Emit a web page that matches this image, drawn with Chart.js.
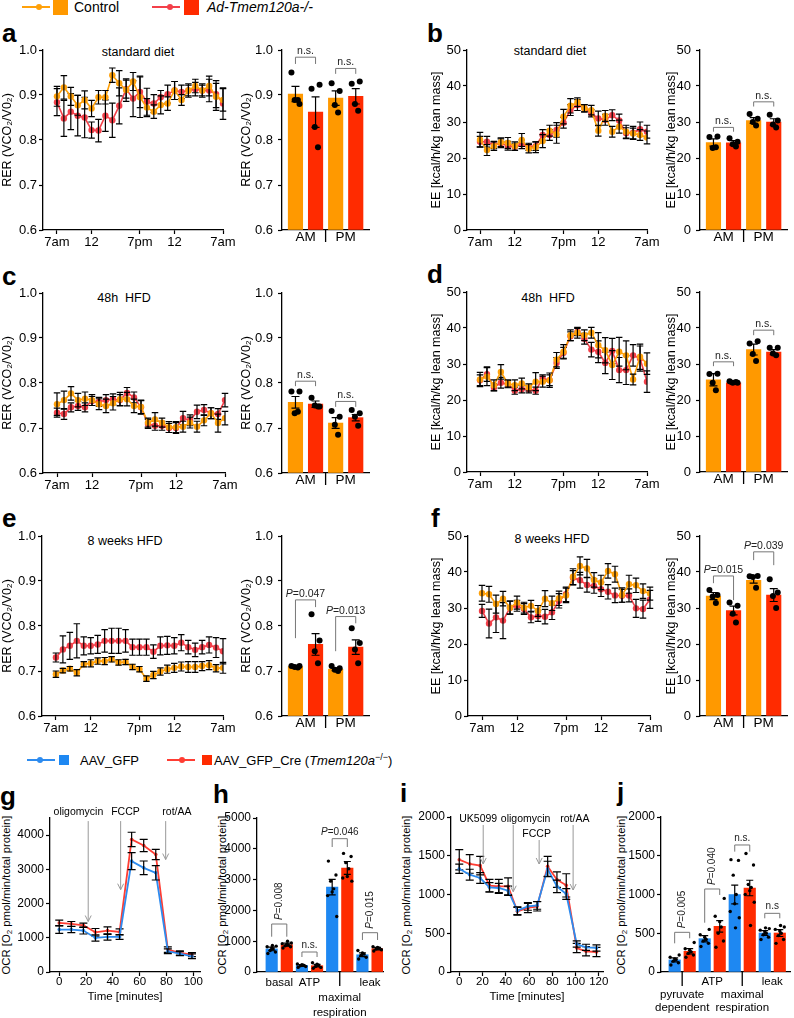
<!DOCTYPE html>
<html><head><meta charset="utf-8">
<script src="https://cdn.jsdelivr.net/npm/chart.js@4.4.1/dist/chart.umd.min.js"></script>
<style>
html,body{margin:0;padding:0;background:#fff}
body{position:relative;width:794px;height:1018px;overflow:hidden;font-family:"Liberation Sans",Arial,Helvetica,sans-serif;color:#000}
canvas{position:absolute}
.t{position:absolute;white-space:nowrap;line-height:1}
.L{font-weight:bold;font-size:26px}
.ttl{font-size:12.5px;transform:translateX(-50%)}
.rot{font-size:11.3px;transform:translate(-50%,-50%) rotate(-90deg)}
.rot sub{font-size:8px;vertical-align:-2px;line-height:0}
.ln{position:absolute;height:2px}
.dot{position:absolute;width:6px;height:6px;border-radius:50%}
.sq{position:absolute}
sup{font-size:9px;vertical-align:5px;line-height:0}
</style></head><body>

<!-- top legend -->
<div class="ln" style="left:22px;top:6px;width:28px;background:#FFA10A"></div>
<div class="dot" style="left:36px;top:4px;background:#FFA10A"></div>
<div class="sq" style="left:53px;top:0px;width:15px;height:15px;background:#FF9900"></div>
<div class="t" style="left:74px;top:0px;font-size:14px">Control</div>
<div class="ln" style="left:152px;top:6px;width:28px;background:#F3404A"></div>
<div class="dot" style="left:167px;top:4px;background:#F3404A"></div>
<div class="sq" style="left:184px;top:0px;width:15px;height:15px;background:#FF2B00"></div>
<div class="t" style="left:207px;top:0px;font-size:14px;font-style:italic">Ad-Tmem120a-/-</div>

<!-- bottom legend -->
<div class="ln" style="left:27px;top:759px;width:28px;background:#2D8BEF"></div>
<div class="dot" style="left:37px;top:757px;background:#2D8BEF"></div>
<div class="sq" style="left:59px;top:755px;width:10px;height:10px;background:#1E88F2"></div>
<div class="t" style="left:80px;top:754px;font-size:13px">AAV_GFP</div>
<div class="ln" style="left:167px;top:759px;width:28px;background:#FF3D33"></div>
<div class="dot" style="left:179px;top:757px;background:#FF3D33"></div>
<div class="sq" style="left:202px;top:755px;width:10px;height:10px;background:#FF2B00"></div>
<div class="t" style="left:214px;top:754px;font-size:13px">AAV_GFP_Cre (<i>Tmem120a</i><sup>−/−</sup>)</div>

<!-- panel letters -->
<div class="t L" style="left:2px;top:20px">a</div>
<div class="t L" style="left:427px;top:20px">b</div>
<div class="t L" style="left:2px;top:263px">c</div>
<div class="t L" style="left:427px;top:261px">d</div>
<div class="t L" style="left:2px;top:505px">e</div>
<div class="t L" style="left:431px;top:505px">f</div>
<div class="t L" style="left:0px;top:783px">g</div>
<div class="t L" style="left:213px;top:781px">h</div>
<div class="t L" style="left:400px;top:780px">i</div>
<div class="t L" style="left:617px;top:779px">j</div>

<!-- in-plot titles -->
<div class="t ttl" style="left:138px;top:46px">standard diet</div>
<div class="t ttl" style="left:550px;top:45px">standard diet</div>
<div class="t ttl" style="left:124px;top:292px">48h&nbsp;&nbsp;HFD</div>
<div class="t ttl" style="left:548px;top:292px">48h&nbsp;&nbsp;HFD</div>
<div class="t ttl" style="left:125px;top:535px">8 weeks HFD</div>
<div class="t ttl" style="left:552px;top:533px">8 weeks HFD</div>

<!-- OCR axis titles -->
<div class="t rot" style="left:7px;top:895px">OCR [O<sub>2</sub> pmol/min/total protein]</div>
<div class="t rot" style="left:223px;top:895px">OCR [O<sub>2</sub> pmol/min/total protein]</div>
<div class="t rot" style="left:407px;top:895px">OCR [O<sub>2</sub> pmol/min/total protein]</div>
<div class="t rot" style="left:622px;top:895px">OCR [O<sub>2</sub> pmol/min/total protein]</div>

<script>
// ======================= DATA =======================
const HOURS = [0,1,2,3,4,5,6,7,8,9,10,11,12,13,14,15,16,17,18,19,20,21,22,23,24];
const DAY_TICKS = [0,5,12,17,24];
const DAY_LABELS = ['7am','12','7pm','12','7am'];
const GROUP_LABELS = ['AM','PM'];
const GROUP_TICKS = [0.5,2.5];
const RER_TICKS = [0.6,0.7,0.8,0.9,1.0];
const EE_TICKS = [0,10,20,30,40,50];

// a: RER, standard diet
const aCtrl    = [0.897,0.917,0.897,0.877,0.889,0.870,0.895,0.895,0.944,0.926,0.911,0.930,0.895,0.872,0.863,0.878,0.881,0.910,0.889,0.910,0.920,0.910,0.920,0.896,0.889];
const aCtrlErr = [0.022,0.026,0.020,0.022,0.020,0.018,0.015,0.015,0.016,0.028,0.025,0.020,0.045,0.020,0.015,0.020,0.015,0.020,0.012,0.012,0.015,0.012,0.022,0.030,0.025];
const aKO      = [0.884,0.848,0.863,0.854,0.850,0.822,0.821,0.854,0.844,0.876,0.913,0.892,0.907,0.885,0.881,0.895,0.902,0.910,0.907,0.910,0.913,0.910,0.910,0.902,0.881];
const aKOErr   = [0.030,0.040,0.040,0.045,0.045,0.018,0.025,0.035,0.038,0.040,0.020,0.040,0.035,0.030,0.020,0.015,0.020,0.020,0.015,0.015,0.015,0.015,0.025,0.030,0.035];
const aBarMean = [0.902,0.862,0.893,0.897];
const aBarErr  = [0.017,0.034,0.016,0.017];
const aBarPts  = [[0.950,0.880,0.889,0.889],[0.914,0.923,0.829,0.784],[0.926,0.909,0.878,0.861],[0.925,0.930,0.880,0.865]];

// b: EE, standard diet
const bCtrl    = [25.1,22.2,23.3,24.4,24.2,23.3,25.0,22.6,23.0,24.7,27.6,26.6,31.5,34.5,35.5,33.8,33.3,27.6,31.7,27.3,28.7,27.3,26.8,26.4,25.7];
const bCtrlErr = [2.0,1.5,1.2,1.2,1.5,1.2,1.8,1.2,1.5,1.8,1.5,2.5,2.0,2.0,1.2,1.0,1.3,1.5,1.5,1.5,1.8,1.8,1.5,1.5,1.8];
const bKO      = [24.5,24.5,23.6,24.1,23.4,23.1,23.8,23.1,23.3,26.4,26.4,27.8,29.8,33.3,34.7,33.8,32.4,31.0,30.6,31.9,30.4,26.9,27.0,28.0,27.3];
const bKOErr   = [1.5,1.5,1.0,1.2,1.2,1.0,1.2,1.0,1.2,1.5,1.5,2.0,1.5,1.5,1.5,1.0,1.0,2.0,1.5,1.5,1.8,1.5,1.8,2.0,1.8];
const bBarMean = [24.3,24.2,30.4,30.0];
const bBarErr  = [1.0,0.6,0.8,0.9];
const bBarPts  = [[25.8,26.0,22.8,23.0],[25.5,24.5,23.8,23.2],[32.2,30.9,30.0,29.0],[32.0,30.4,29.3,28.5]];

// c: RER, 48h HFD
const cCtrl    = [0.753,0.762,0.777,0.762,0.765,0.762,0.753,0.749,0.755,0.764,0.764,0.749,0.747,0.712,0.719,0.712,0.702,0.702,0.703,0.712,0.703,0.717,0.733,0.711,0.722];
const cCtrlErr = [0.025,0.020,0.015,0.015,0.015,0.012,0.012,0.015,0.015,0.015,0.015,0.015,0.015,0.010,0.015,0.010,0.012,0.012,0.012,0.012,0.012,0.012,0.012,0.020,0.015];
const cKO      = [0.734,0.731,0.746,0.749,0.746,0.760,0.758,0.762,0.764,0.762,0.778,0.768,0.746,0.709,0.705,0.705,0.700,0.700,0.722,0.717,0.736,0.740,0.733,0.731,0.762];
const cKOErr   = [0.010,0.012,0.010,0.010,0.010,0.010,0.010,0.012,0.012,0.012,0.012,0.012,0.015,0.010,0.010,0.010,0.010,0.012,0.015,0.012,0.015,0.012,0.012,0.012,0.015];
const cBarMean = [0.757,0.753,0.711,0.723];
const cBarErr  = [0.013,0.007,0.012,0.007];
const cBarPts  = [[0.781,0.781,0.733,0.736],[0.767,0.748,0.750,0.748],[0.738,0.725,0.707,0.685],[0.740,0.733,0.725,0.705]];

// d: EE, 48h HFD
const dCtrl    = [25.7,26.5,24.1,27.8,24.6,24.1,24.6,23.5,25.1,25.1,25.5,31.2,33.4,38.0,38.7,38.0,38.7,35.2,33.8,29.7,33.4,32.4,25.7,32.0,30.1];
const dCtrlErr = [2.0,2.5,1.5,2.0,1.0,1.5,1.5,1.0,2.5,1.5,2.0,2.0,2.0,1.5,1.5,1.5,1.5,3.5,3.5,4.0,4.0,4.0,1.5,3.5,3.0];
const dKO      = [25.5,27.2,23.5,24.8,24.4,22.6,23.0,23.0,22.6,26.0,25.5,30.3,33.1,37.7,38.9,37.0,34.0,33.4,30.3,33.6,28.3,28.3,32.4,31.5,25.1];
const dKOErr   = [1.5,2.0,1.0,1.5,1.0,1.0,1.0,1.0,1.0,1.0,1.5,1.5,1.5,1.2,1.0,1.5,2.0,3.0,3.0,3.5,3.5,4.0,3.0,3.5,3.0];
const dBarMean = [25.6,24.8,34.0,33.3];
const dBarErr  = [1.7,0.4,1.5,0.7];
const dBarPts  = [[27.2,27.3,24.8,22.7],[25.2,24.8,24.8,25.0],[35.7,36.3,32.8,30.8],[34.5,34.5,32.9,32.4]];

// e: RER, 8 weeks HFD
const eCtrl    = [0.693,0.701,0.705,0.696,0.715,0.717,0.722,0.722,0.726,0.719,0.720,0.709,0.704,0.683,0.691,0.699,0.704,0.707,0.710,0.709,0.709,0.711,0.713,0.706,0.707];
const eCtrlErr = [0.007,0.005,0.005,0.007,0.006,0.008,0.007,0.008,0.006,0.006,0.006,0.006,0.006,0.006,0.008,0.008,0.009,0.010,0.010,0.012,0.012,0.010,0.010,0.008,0.012];
const eKO      = [0.730,0.748,0.756,0.767,0.756,0.756,0.759,0.767,0.767,0.767,0.767,0.753,0.753,0.753,0.743,0.756,0.757,0.756,0.763,0.753,0.747,0.753,0.758,0.752,0.744];
const eKOErr   = [0.010,0.030,0.030,0.038,0.020,0.018,0.020,0.025,0.028,0.028,0.025,0.018,0.018,0.018,0.015,0.020,0.020,0.018,0.018,0.015,0.015,0.015,0.018,0.022,0.028];
const eBarMean = [0.710,0.759,0.704,0.753];
const eBarErr  = [0.002,0.024,0.003,0.016];
const eBarPts  = [[0.711,0.711,0.709,0.708],[0.826,0.768,0.744,0.717],[0.711,0.706,0.703,0.700],[0.795,0.762,0.748,0.717]];

// f: EE, 8 weeks HFD
const fCtrl    = [34.1,33.8,31.1,32.6,30.1,31.5,30.1,30.6,29.2,32.6,31.3,32.7,33.5,38.7,41.7,41.0,37.8,37.1,40.3,39.4,33.6,36.6,36.3,34.7,34.0];
const fCtrlErr = [2.2,2.2,2.5,2.0,1.8,1.8,1.5,1.5,1.5,2.2,2.0,2.0,2.0,2.2,2.5,2.5,2.0,2.0,2.0,2.2,2.0,2.5,2.0,2.0,1.8];
const fKO      = [29.2,25.7,27.4,26.5,30.1,30.6,29.7,27.4,27.8,27.6,28.8,32.0,33.8,38.4,37.7,36.4,36.1,35.2,34.5,33.5,33.4,33.5,29.9,29.7,32.4];
const fKOErr   = [1.8,4.0,4.2,5.0,1.8,1.5,1.5,1.5,1.5,2.0,2.0,2.0,2.0,2.0,2.2,2.0,2.0,2.0,2.0,2.0,1.8,1.8,2.5,2.5,2.5];
const fBarMean = [33.3,29.3,37.7,33.6];
const fBarErr  = [1.0,1.2,0.8,1.8];
const fBarPts  = [[35.0,33.6,33.2,31.4],[31.5,30.6,28.4,26.0],[38.8,38.9,38.6,35.6],[38.0,34.3,33.3,30.0]];

// g: OCR time course
const gTime    = [0,9,18,27,36,45,54,63,72,81,90,99];
const gGFP     = [1239,1239,1210,995,1024,1024,3239,3044,2898,605,537,459];
const gGFPErr  = [110,90,100,90,90,70,250,200,210,70,60,70];
const gCre     = [1434,1405,1366,1161,1210,1171,3873,3698,3434,654,556,507];
const gCreErr  = [80,70,60,110,110,90,210,180,150,80,60,60];
const gTicksX  = [0,20,40,60,80,100];
const gTicksY  = [0,1000,2000,3000,4000];

// h: OCR bars
const hLabels  = ['basal','ATP',['','maximal','respiration'],'leak'];
const hMean    = [750,887,213,205,2757,3377,560,758];
const hErr     = [60,50,30,40,250,210,60,40];
const hPts     = [[600,650,700,750,780,820,840,860],[780,820,850,880,900,920,940,1000],[150,180,200,220,240,260],[120,150,180,220,250,300],
                  [3600,3150,2950,2700,2600,2480,1800],[3850,3750,3550,3350,3100,3050,2950],[420,480,540,580,620,700],[680,720,750,770,800,820]];
const hTicksY  = [0,1000,2000,3000,4000,5000];

// i: OCR time course with UK5099
const iTime    = [0,9,18,26,34,42,50,59,67,76,84,92,101,109,118];
const iGFP     = [1333,1256,1213,1092,1084,1049,791,847,860,1329,1105,1006,361,318,310];
const iGFPErr  = [60,70,70,60,60,60,50,50,50,100,80,70,40,40,40];
const iCre     = [1449,1394,1372,1114,1105,1105,783,826,847,1363,1191,1118,310,267,258];
const iCreErr  = [130,120,120,80,90,110,50,60,60,130,100,150,60,60,60];
const iTicksX  = [0,20,40,60,80,100,120];
const ijTicksY = [0,500,1000,1500,2000];

// j: OCR bars
const jLabels  = [['','pyruvate','dependent'],'ATP',['','maximal','respiration'],'leak'];
const jMean    = [156,267,430,589,1000,1084,503,503];
const jErr     = [25,35,40,75,120,100,30,45];
const jPts     = [[90,120,140,160,170,190,220],[190,220,240,260,280,300,380],[330,370,400,420,450,480,550],[320,400,500,580,650,720,950],
                  [1450,1440,1250,1000,880,780,700,570],[1530,1380,1130,1090,1050,1000,900,600],[420,450,480,500,520,540,560,570],[370,420,470,500,530,550,580,600]];
const PAIR_TICKS = [0.5,2.5,4.5,6.5];

// ======================= STYLE / HELPERS =======================
const FONT = "'Liberation Sans', Arial, Helvetica, sans-serif";
Chart.defaults.font.family = FONT;
Chart.defaults.color = '#000';
const C = { orangeLine:'#FFA10A', orangeBar:'#FF9900', redLine:'#F3404A', redBar:'#FF2B00',
            blueLine:'#2D8BEF', blueBar:'#1E88F2', redLine2:'#FF3D33', bracket:'#777', arrow:'#999' };
const AMPM_COLORS = [C.orangeBar, C.redBar, C.orangeBar, C.redBar];
const OCR_COLORS = [C.blueBar, C.redBar, C.blueBar, C.redBar, C.blueBar, C.redBar, C.blueBar, C.redBar];
const JIT4 = [-0.2, 0.2, -0.04, 0.12];
const JIT8 = [-0.25, 0.25, -0.1, 0.1, 0, -0.3, 0.3, 0.05];

function frame(p) {
  let cl, padL;
  if (p.ytx !== undefined) { const x0 = p.ytx - p.tsz * 0.6; cl = Math.floor(x0); padL = x0 - cl; }
  else { cl = p.l - p.yw; padL = 0; }
  const ct = p.t - p.padT, cw = p.r + p.padR - cl, ch = p.cb - ct;
  const cv = document.createElement('canvas');
  cv.width = cw; cv.height = ch;
  cv.style.left = cl + 'px'; cv.style.top = ct + 'px';
  document.body.appendChild(cv);
  return { ctx: cv.getContext('2d'), yw: p.l - cl - padL, xh: p.xh,
           pad: { left: padL, top: p.padT, right: p.padR, bottom: p.cb - p.b - p.xh } };
}
function yAxis(f, o) {
  return {
    type: 'linear', position: 'left', min: o.min, max: o.max,
    afterBuildTicks: s => { s.ticks = o.ticks.map(v => ({ value: v })); },
    afterFit: s => { s.width = f.yw; },
    ticks: { font: { size: o.fs }, color: '#000', padding: o.pad, autoSkip: false, callback: v => o.fmt(v) },
    grid: { display: true, drawOnChartArea: false, drawTicks: true, tickLength: 4, tickWidth: 1.2, tickColor: '#000' },
    border: { display: true, color: '#000', width: 1.3 },
    title: o.title ? { display: true, text: o.title, font: { size: o.tsz }, color: '#000', padding: 0 } : { display: false }
  };
}
function xAxis(f, o) {
  return {
    type: 'linear', position: 'bottom', min: o.min, max: o.max, offset: false,
    afterBuildTicks: s => { s.ticks = o.ticks.map(v => ({ value: v })); },
    afterFit: s => { s.height = f.xh; },
    ticks: { font: { size: o.fs, lineHeight: o.lh || 1.2 }, color: '#000', padding: o.pad, autoSkip: false,
             maxRotation: 0, minRotation: 0, callback: (v, i) => o.labels[i] },
    grid: { display: true, offset: false, drawOnChartArea: false, drawTicks: !!o.tick, tickLength: 4, tickWidth: 1.2, tickColor: '#000' },
    border: { display: true, color: '#000', width: 1.3 },
    title: o.title ? { display: true, text: o.title, font: { size: o.tsz }, color: '#000', padding: 0 } : { display: false }
  };
}
function opts(f, scales) {
  return { responsive: false, animation: false, devicePixelRatio: 1, events: [],
    layout: { padding: f.pad },
    plugins: { legend: { display: false }, tooltip: { enabled: false }, title: { display: false } },
    scales };
}
function drawStat(ctx, text, x, y, rot, fs) {
  const ital = text.indexOf('P=') === 0;
  const head = ital ? 'P' : '', tail = ital ? text.slice(1) : text;
  ctx.save();
  ctx.translate(x, y);
  if (rot) ctx.rotate(-Math.PI / 2);
  ctx.fillStyle = '#222';
  ctx.textBaseline = rot ? 'middle' : 'alphabetic';
  ctx.textAlign = 'left';
  ctx.font = 'italic ' + fs + 'px ' + FONT;
  const w1 = head ? ctx.measureText(head).width : 0;
  ctx.font = fs + 'px ' + FONT;
  const w2 = ctx.measureText(tail).width;
  const sx = rot ? 0 : -(w1 + w2) / 2;
  if (head) { ctx.font = 'italic ' + fs + 'px ' + FONT; ctx.fillText(head, sx, 0); }
  ctx.font = fs + 'px ' + FONT; ctx.fillText(tail, sx + w1, 0);
  ctx.restore();
}
function annot(spec) {
  return {
    id: 'annot',
    afterDatasetDraw(chart, args) {
      const ds = chart.data.datasets[args.index];
      if (!ds.errorBars) return;
      const ys = chart.scales.y, ctx = chart.ctx;
      ctx.save();
      ctx.strokeStyle = '#000'; ctx.lineWidth = ds.errWidth || 1.2;
      args.meta.data.forEach((el, i) => {
        const v = ds.data[i].y, e = ds.errorBars[i], x = el.x, h = ds.errCap / 2;
        const yt = ys.getPixelForValue(v + e), yb = ys.getPixelForValue(v - e);
        ctx.beginPath();
        ctx.moveTo(x, yt); ctx.lineTo(x, yb);
        ctx.moveTo(x - h, yt); ctx.lineTo(x + h, yt);
        ctx.moveTo(x - h, yb); ctx.lineTo(x + h, yb);
        ctx.stroke();
      });
      ctx.restore();
    },
    afterDraw(chart) {
      const ctx = chart.ctx, xs = chart.scales.x, ys = chart.scales.y;
      ctx.save();
      (spec.seps || []).forEach(s => {
        const x = xs.getPixelForValue(s.x), y = chart.chartArea.bottom;
        ctx.strokeStyle = '#000'; ctx.lineWidth = 1.3;
        ctx.beginPath(); ctx.moveTo(x, y); ctx.lineTo(x, y + s.len); ctx.stroke();
      });
      (spec.brackets || []).forEach(b => {
        const x1 = xs.getPixelForValue(b.a), x2 = xs.getPixelForValue(b.b), yt = ys.getPixelForValue(b.top);
        ctx.strokeStyle = C.bracket; ctx.lineWidth = 1;
        ctx.beginPath();
        ctx.moveTo(x1, ys.getPixelForValue(b.l1)); ctx.lineTo(x1, yt); ctx.lineTo(x2, yt); ctx.lineTo(x2, ys.getPixelForValue(b.l2));
        ctx.stroke();
        drawStat(ctx, b.text, (x1 + x2) / 2, yt - spec.gap, b.rot, spec.fs);
      });
      (spec.arrows || []).forEach(a => {
        const x = xs.getPixelForValue(a.x), y1 = ys.getPixelForValue(a.y1), y2 = ys.getPixelForValue(a.y2);
        ctx.strokeStyle = C.arrow; ctx.lineWidth = 1;
        ctx.beginPath(); ctx.moveTo(x, y1); ctx.lineTo(x, y2);
        ctx.moveTo(x - 3, y2 - 6); ctx.lineTo(x, y2); ctx.lineTo(x + 3, y2 - 6); ctx.stroke();
      });
      (spec.notes || []).forEach(n => {
        ctx.fillStyle = '#000'; ctx.font = spec.nfs + 'px ' + FONT; ctx.textAlign = 'center'; ctx.textBaseline = 'alphabetic';
        ctx.fillText(n.text, xs.getPixelForValue(n.x), ys.getPixelForValue(n.y));
      });
      ctx.restore();
    }
  };
}

const RER_Y = { min: 0.6, max: 1.0, ticks: RER_TICKS, fmt: v => v.toFixed(1), title: 'RER (VCO\u2082/V0\u2082)', tsz: 12.5, fs: 13 };
const EE_Y  = { min: 0, max: 50, ticks: EE_TICKS, fmt: v => String(v), title: 'EE [kcal/h/kg lean mass]', tsz: 12.5, fs: 13 };

function dayChart(p, yo, ctrl, ctrlErr, ko, koErr) {
  const f = frame(p);
  const mk = (vals, errs, col) => ({
    data: HOURS.map((h, i) => ({ x: h, y: vals[i] })),
    borderColor: col, backgroundColor: col, pointBackgroundColor: col, pointBorderColor: col,
    borderWidth: 1.6, pointRadius: 3.2, pointBorderWidth: 0, tension: 0, errorBars: errs, errCap: 6.5
  });
  new Chart(f.ctx, {
    type: 'line',
    data: { datasets: [mk(ctrl, ctrlErr, C.orangeLine), mk(ko, koErr, C.redLine)] },
    options: opts(f, {
      x: xAxis(f, { min: p.xmin, max: 24, ticks: DAY_TICKS, labels: DAY_LABELS, fs: 13, pad: 1, tick: true }),
      y: yAxis(f, Object.assign({ pad: 2 }, yo))
    }),
    plugins: [annot({})]
  });
}
function amPmBar(p, yo, means, errs, pts, brackets) {
  const f = frame(p);
  const dots = [];
  pts.forEach((arr, i) => arr.forEach((v, j) => dots.push({ x: i + JIT4[j], y: v })));
  new Chart(f.ctx, {
    type: 'bar',
    data: { datasets: [
      { type: 'scatter', data: dots, pointRadius: 3, pointBackgroundColor: '#000', pointBorderWidth: 0, backgroundColor: '#000' },
      { type: 'bar', data: means.map((m, i) => ({ x: i, y: m })), backgroundColor: AMPM_COLORS, barThickness: 14.5,
        base: yo.min, errorBars: errs, errCap: 8 }
    ]},
    options: opts(f, {
      x: xAxis(f, { min: p.xmin, max: p.xmax, ticks: GROUP_TICKS, labels: GROUP_LABELS, fs: 13.5, pad: -1 }),
      y: yAxis(f, Object.assign({ pad: 5 }, yo))
    }),
    plugins: [annot({ brackets, seps: [{ x: 1.5, len: 12 }], gap: 3, fs: 10.5 })]
  });
}
function timeChart(p, yo, xo, times, gfp, gfpErr, cre, creErr, spec) {
  const f = frame(p);
  const mk = (vals, errs, col) => ({
    data: times.map((t, i) => ({ x: t, y: vals[i] })),
    borderColor: col, backgroundColor: col, pointBackgroundColor: col, pointBorderWidth: 0,
    borderWidth: 1.8, pointRadius: 1.8, tension: 0, errorBars: errs, errCap: 8
  });
  new Chart(f.ctx, {
    type: 'line',
    data: { datasets: [mk(gfp, gfpErr, C.blueLine), mk(cre, creErr, C.redLine2)] },
    options: opts(f, { x: xAxis(f, xo), y: yAxis(f, yo) }),
    plugins: [annot(spec)]
  });
}
function ocrBar(p, yo, xo, means, errs, pts, spec) {
  const f = frame(p);
  const dots = [];
  pts.forEach((arr, i) => arr.forEach((v, j) => dots.push({ x: i + JIT8[j], y: v })));
  new Chart(f.ctx, {
    type: 'bar',
    data: { datasets: [
      { type: 'scatter', data: dots, pointRadius: 1.7, pointBackgroundColor: '#000', pointBorderWidth: 0, backgroundColor: '#000' },
      { type: 'bar', data: means.map((m, i) => ({ x: i, y: m })), backgroundColor: OCR_COLORS, barThickness: 11.5,
        base: 0, errorBars: errs, errCap: 7 }
    ]},
    options: opts(f, { x: xAxis(f, xo), y: yAxis(f, yo) }),
    plugins: [annot(spec)]
  });
}

// ======================= CHARTS =======================
const LP = { padT: 14, padR: 16, xh: 28, tsz: 12.5 };
const BP = { padT: 14, padR: 6, xh: 24, tsz: 12.5, xmin: -0.67, xmax: 3.66 };

// row 1
dayChart(Object.assign({ l: 43, t: 50, r: 223, b: 230, ytx: 8, cb: 260, xmin: -2.02 }, LP), RER_Y, aCtrl, aCtrlErr, aKO, aKOErr);
amPmBar(Object.assign({ l: 282, t: 50, r: 369, b: 230, ytx: 247, cb: 256 }, BP), RER_Y, aBarMean, aBarErr, aBarPts,
  [{ a: 0, b: 1, top: 0.984, l1: 0.969, l2: 0.969, text: 'n.s.' }, { a: 2, b: 3, top: 0.959, l1: 0.947, l2: 0.947, text: 'n.s.' }]);
dayChart(Object.assign({ l: 467, t: 50, r: 647, b: 230, ytx: 437, cb: 260, xmin: -1.87 }, LP), EE_Y, bCtrl, bCtrlErr, bKO, bKOErr);
amPmBar(Object.assign({ l: 700, t: 50, r: 787, b: 230, ytx: 672, cb: 256 }, BP), EE_Y, bBarMean, bBarErr, bBarPts,
  [{ a: 0, b: 1, top: 28.5, l1: 27.3, l2: 27.3, text: 'n.s.' }, { a: 2, b: 3, top: 35.6, l1: 34.3, l2: 34.3, text: 'n.s.' }]);

// row 2
dayChart(Object.assign({ l: 43, t: 293, r: 225, b: 473, ytx: 8, cb: 503, xmin: -2.0 }, LP), RER_Y, cCtrl, cCtrlErr, cKO, cKOErr);
amPmBar(Object.assign({ l: 282, t: 293, r: 369, b: 473, ytx: 247, cb: 499 }, BP), RER_Y, cBarMean, cBarErr, cBarPts,
  [{ a: 0, b: 1, top: 0.804, l1: 0.793, l2: 0.793, text: 'n.s.' }, { a: 2, b: 3, top: 0.759, l1: 0.747, l2: 0.747, text: 'n.s.' }]);
dayChart(Object.assign({ l: 467, t: 292, r: 647, b: 472, ytx: 437, cb: 502, xmin: -1.87 }, LP), EE_Y, dCtrl, dCtrlErr, dKO, dKOErr);
amPmBar(Object.assign({ l: 700, t: 292, r: 787, b: 472, ytx: 672, cb: 498 }, BP), EE_Y, dBarMean, dBarErr, dBarPts,
  [{ a: 0, b: 1, top: 30.6, l1: 29.4, l2: 29.4, text: 'n.s.' }, { a: 2, b: 3, top: 39.4, l1: 38.0, l2: 38.0, text: 'n.s.' }]);

// row 3
dayChart(Object.assign({ l: 42, t: 536, r: 223, b: 716, ytx: 8, cb: 746, xmin: -2.0 }, LP), RER_Y, eCtrl, eCtrlErr, eKO, eKOErr);
amPmBar(Object.assign({ l: 282, t: 536, r: 369, b: 716, ytx: 247, cb: 742 }, BP), RER_Y, eBarMean, eBarErr, eBarPts,
  [{ a: 0, b: 1, top: 0.858, l1: 0.773, l2: 0.842, text: 'P=0.047' }, { a: 2, b: 3, top: 0.821, l1: 0.744, l2: 0.806, text: 'P=0.013' }]);
dayChart(Object.assign({ l: 468, t: 536, r: 650, b: 716, ytx: 437, cb: 746, xmin: -2.0 }, LP), EE_Y, fCtrl, fCtrlErr, fKO, fKOErr);
amPmBar(Object.assign({ l: 700, t: 536, r: 787, b: 716, ytx: 672, cb: 742 }, BP), EE_Y, fBarMean, fBarErr, fBarPts,
  [{ a: 0, b: 1, top: 38.9, l1: 36.9, l2: 32.2, text: 'P=0.015' }, { a: 2, b: 3, top: 45.6, l1: 43.3, l2: 41.9, text: 'P=0.039' }]);

// row 4
timeChart({ l: 50, t: 818, r: 200, b: 972, yw: 50, padT: 32, padR: 14, xh: 32, cb: 1008 },
  { min: 0, max: 4500, ticks: gTicksY, fmt: v => String(v), fs: 12, pad: 2 },
  { min: -6.9, max: 105, ticks: gTicksX, labels: gTicksX.map(String), fs: 11.5, pad: -1, tick: true, title: 'Time [minutes]', tsz: 11.5 },
  gTime, gGFP, gGFPErr, gCre, gCreErr,
  { arrows: [{ x: 21.6, y1: 4410, y2: 1476 }, { x: 45.8, y1: 4410, y2: 2406 }, { x: 79.4, y1: 4410, y2: 3286 }],
    notes: [{ text: 'oligomycin', x: 14.3, y: 4580 }, { text: 'FCCP', x: 49.4, y: 4580 }, { text: 'rot/AA', x: 87.8, y: 4580 }], nfs: 10.5 });

ocrBar({ l: 257, t: 818, r: 383, b: 972, yw: 50, padT: 25, padR: 10, xh: 46, cb: 1018 },
  { min: 0, max: 5000, ticks: hTicksY, fmt: v => String(v), fs: 12, pad: 2 },
  { min: -0.97, max: 7.36, ticks: PAIR_TICKS, labels: hLabels, fs: 11.5, lh: 1.3, pad: 3 },
  hMean, hErr, hPts,
  { brackets: [{ a: 0, b: 1, top: 1558, l1: 1146, l2: 1146, text: 'P=0.008', rot: true },
               { a: 2, b: 3, top: 649, l1: 487, l2: 487, text: 'n.s.' },
               { a: 4, b: 5, top: 4329, l1: 4058, l2: 4058, text: 'P=0.046' },
               { a: 6, b: 7, top: 1276, l1: 1039, l2: 1039, text: 'P=0.015', rot: true }],
    seps: [{ x: 4.5, len: 14 }], gap: 4, fs: 10 });

timeChart({ l: 451, t: 817, r: 603, b: 972, yw: 50, padT: 32, padR: 14, xh: 32, cb: 1008 },
  { min: 0, max: 2000, ticks: ijTicksY, fmt: v => String(v), fs: 12, pad: 2 },
  { min: -7.1, max: 123.6, ticks: iTicksX, labels: iTicksX.map(String), fs: 11.5, pad: -1, tick: true, title: 'Time [minutes]', tsz: 11.5 },
  iTime, iGFP, iGFPErr, iCre, iCreErr,
  { arrows: [{ x: 20.6, y1: 1897, y2: 1394 }, { x: 46.4, y1: 1897, y2: 1036 }, { x: 68.7, y1: 1703, y2: 1394 }, { x: 97.9, y1: 1897, y2: 1058 }],
    notes: [{ text: 'UK5099', x: 16.3, y: 1939 }, { text: 'oligomycin', x: 57.1, y: 1939 }, { text: 'FCCP', x: 66.5, y: 1746 }, { text: 'rot/AA', x: 99.4, y: 1939 }], nfs: 10.5 });

ocrBar({ l: 661, t: 817, r: 793, b: 972, yw: 50, padT: 25, padR: 1, xh: 46, cb: 1018 },
  { min: 0, max: 2000, ticks: ijTicksY, fmt: v => String(v), fs: 12, pad: 2 },
  { min: -0.91, max: 7.68, ticks: PAIR_TICKS, labels: jLabels, fs: 11.5, lh: 1.15, pad: 3 },
  jMean, jErr, jPts,
  { brackets: [{ a: 0, b: 1, top: 512, l1: 370, l2: 435, text: 'P=0.005', rot: true },
               { a: 2, b: 3, top: 1071, l1: 636, l2: 994, text: 'P=0.040', rot: true },
               { a: 4, b: 5, top: 1639, l1: 1553, l2: 1553, text: 'n.s.' },
               { a: 6, b: 7, top: 757, l1: 693, l2: 693, text: 'n.s' }],
    seps: [{ x: 0.5, len: 14 }, { x: 4.5, len: 14 }], gap: 4, fs: 10 });
</script>
</body></html>
